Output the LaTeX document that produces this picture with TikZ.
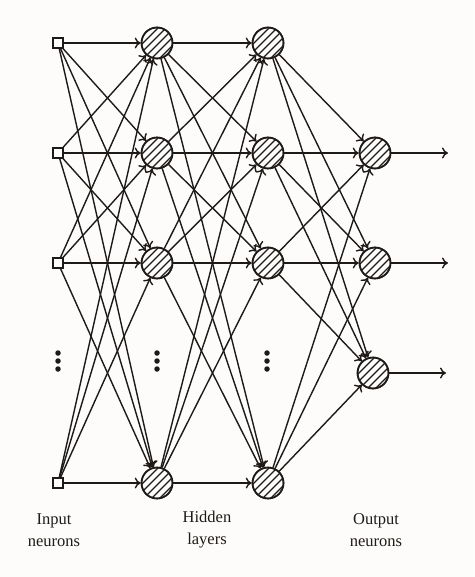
\documentclass[tikz,border=0pt]{standalone}
\usepackage{fontspec}
\setmainfont{Liberation Serif}
\usetikzlibrary{arrows.meta}
\definecolor{bg}{HTML}{FDFCFA}
\definecolor{ink}{HTML}{1E1A18}
\begin{document}
\begin{tikzpicture}[x=1pt,y=-1pt,
  inp/.style={draw=ink,line width=1.2pt,fill=white,minimum size=10pt,inner sep=0pt},
  neu/.style={circle,draw=ink,line width=1.6pt,minimum size=31pt,inner sep=0pt},
  edge/.style={draw=ink,line width=1.4pt,-{To[length=6pt,width=11pt]}},
  dot/.style={circle,fill=ink,inner sep=0pt,minimum size=5.5pt},
  lab/.style={font=\fontsize{16.5}{22}\selectfont,text=ink,align=center}]
\fill[bg] (0,0) rectangle (474,577);
\useasboundingbox (0,0) rectangle (474,577);
% nodes
\foreach \n/\y in {1/43,2/153,3/263,4/483}{
  \node[inp] (i\n) at (58,\y) {};
  \node[neu] (a\n) at (157,\y) {};
  \node[neu] (b\n) at (268,\y) {};
}
\node[neu] (o1) at (375,153) {};
\node[neu] (o2) at (375,263) {};
\node[neu] (o3) at (373,373) {};
% hatching
\foreach \c in {a1,a2,a3,a4,b1,b2,b3,b4,o1,o2,o3}{
  \begin{scope}
    \clip (\c) circle (15pt);
    \foreach \k in {-30,-22,...,30}{
      \draw[ink,line width=1.2pt] ([shift={(\k-20,20)}]\c.center) -- ([shift={(\k+20,-20)}]\c.center);
    }
  \end{scope}
  \node[neu] at (\c) {};
}
% edges
\foreach \s in {1,2,3,4}{
  \foreach \t in {1,2,3,4}{
    \draw[edge] (i\s) -- (a\t);
    \draw[edge] (a\s) -- (b\t);
  }
  \foreach \t in {1,2,3}{
    \draw[edge] (b\s) -- (o\t);
  }
}
\foreach \t in {1,2,3}{
  \coordinate (e\t) at ([xshift=73pt]o\t.center);
  \draw[edge] (o\t) -- (e\t);
}
% dots
\foreach \x/\d in {58/p,157/q,267/r}{
  \node[dot] (\d1) at (\x,353) {};
  \node[dot] (\d2) at (\x,361) {};
  \node[dot] (\d3) at (\x,369) {};
}
% labels
\node[lab] (l1) at (54,530) {Input\\neurons};
\node[lab] (l2) at (207,530) {Hidden\\layers};
\node[lab] (l3) at (376,530) {Output\\neurons};
\end{tikzpicture}
\end{document}
